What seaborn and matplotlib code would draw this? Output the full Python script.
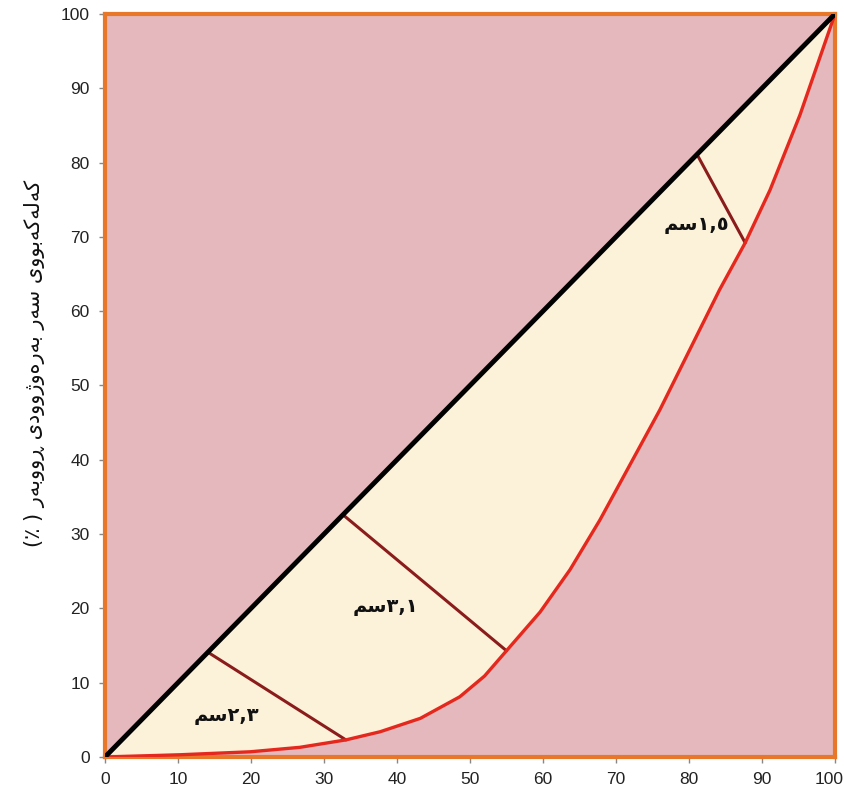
import matplotlib
matplotlib.use("Agg")
import matplotlib.pyplot as plt
import matplotlib.transforms as mtransforms
import seaborn as sns
import pandas as pd

# Lorenz curve (cumulative %)
curve_x = [0, 10.3, 19.9, 26.7, 33, 37.7, 43.2, 48.6, 52, 55, 59.6, 63.7, 67.8,
           71.9, 76, 80.1, 84.2, 87.7, 91.1, 95.2, 100]
curve_y = [0, 0.3, 0.7, 1.3, 2.3, 3.4, 5.2, 8.1, 10.9, 14.3, 19.5, 25.2, 31.9,
           39.3, 46.7, 54.8, 62.9, 69.2, 76.3, 86.4, 100]

# line of equality
equal_x = [0, 100]
equal_y = [0, 100]

# distance markers between the two lines
seg_x1 = [14.1, 32.6, 81.1]
seg_y1 = [14.1, 32.6, 81.1]
seg_x2 = [33.0, 55.0, 87.7]
seg_y2 = [2.3, 14.3, 69.2]

seg_labels = ["٢,٣سم", "٣,١سم", "١,٥سم"]
label_x = [16.6, 38.4, 81.0]
label_y = [5.6, 20.3, 71.7]

ticks = list(range(0, 101, 10))
ylabel = "کەڵەکەبووی سەر بەرەوژوودی ڕووبەر ( ٪)"

# --- minimal Arabic-script shaping (matplotlib has no shaping / bidi) ---
DUAL = {
    "ب": ("\uFE8F", "\uFE90", "\uFE91", "\uFE92"),
    "ی": ("\uFBFC", "\uFBFD", "\uFBFE", "\uFBFF"),
    "ک": ("\uFB8E", "\uFB8F", "\uFB90", "\uFB91"),
    "س": ("\uFEB1", "\uFEB2", "\uFEB3", "\uFEB4"),
    "م": ("\uFEE1", "\uFEE2", "\uFEE3", "\uFEE4"),
    "ڵ": ("\uFEDD", "\uFEDE", "\uFEDF", "\uFEE0"),
}
RIGHT = {
    "ە": ("\uFEE9", "\uFEEA"),
    "ر": ("\uFEAD", "\uFEAE"),
    "ڕ": ("\u0695", "\u0695"),
    "و": ("\uFEED", "\uFEEE"),
    "ژ": ("\uFB8A", "\uFB8B"),
    "د": ("\uFEA9", "\uFEAA"),
}
DIGITS = set("0123456789٠١٢٣٤٥٦٧٨٩")
MIRROR = {"(": ")", ")": "("}


def shape_rtl(text):
    letters = set(DUAL) | set(RIGHT)
    tokens = []
    i = 0
    while i < len(text):
        ch = text[i]
        if ch in DIGITS:
            j = i
            while j < len(text) and (text[j] in DIGITS or
                                     (text[j] == "," and j + 1 < len(text) and text[j + 1] in DIGITS)):
                j += 1
            tokens.append(text[i:j])
            i = j
            continue
        if ch in letters:
            prev = text[i - 1] if i > 0 else ""
            nxt = text[i + 1] if i + 1 < len(text) else ""
            join_prev = prev in DUAL
            join_next = ch in DUAL and nxt in letters
            if ch in DUAL:
                iso, fin, ini, med = DUAL[ch]
                g = med if (join_prev and join_next) else fin if join_prev else ini if join_next else iso
            else:
                iso, fin = RIGHT[ch]
                g = fin if join_prev else iso
            tokens.append(g)
        else:
            tokens.append(MIRROR.get(ch, ch))
        i += 1
    return "".join(reversed(tokens))


sns.set_style("ticks")
plt.rcParams["font.family"] = ["Liberation Sans", "DejaVu Sans"]

fig = plt.figure(figsize=(8.44, 7.98), dpi=100)
ax = fig.add_axes([0.1244, 0.0514, 0.8649, 0.9311])
ax.set_facecolor("#E4B8BC")

curve = pd.DataFrame({"x": curve_x, "y": curve_y})
equal = pd.DataFrame({"x": equal_x, "y": equal_y})

ax.fill_between(curve_x, curve_y, curve_x, color="#FCF2DA", zorder=1, lw=0)
sns.lineplot(data=curve, x="x", y="y", ax=ax, color="#E5281E", lw=2.4, zorder=3)
sns.lineplot(data=equal, x="x", y="y", ax=ax, color="black", lw=3.5, zorder=4)

for x1, y1, x2, y2 in zip(seg_x1, seg_y1, seg_x2, seg_y2):
    ax.plot([x1, x2], [y1, y2], color="#8B1C1C", lw=2.2, zorder=2)

for txt, lx, ly in zip(seg_labels, label_x, label_y):
    ax.text(lx, ly, shape_rtl(txt), ha="center", va="center", fontsize=14,
            fontweight="bold", family=["DejaVu Sans"], color="#111111", zorder=5)

ax.set_xlim(0, 100)
ax.set_ylim(0, 100)
ax.set_xticks(ticks)
ax.set_yticks(ticks)
ax.tick_params(axis="both", length=4, width=1, color="#888888", labelsize=12.5,
               labelcolor="#222222", pad=7)
for sp in ax.spines.values():
    sp.set_color("#E8772A")
    sp.set_linewidth(3)
    sp.set_visible(True)

# keep the last x tick label inside the figure
last = ax.get_xticklabels()[-1]
last.set_transform(last.get_transform() +
                   mtransforms.ScaledTranslation(-6 / 100, 0, fig.dpi_scale_trans))

ax.set_xlabel("")
ax.set_ylabel(shape_rtl(ylabel), fontsize=15, family=["DejaVu Sans"],
              color="#111111")
ax.yaxis.set_label_coords(-0.082, 0.53)

fig.savefig("out.png", dpi=100)
